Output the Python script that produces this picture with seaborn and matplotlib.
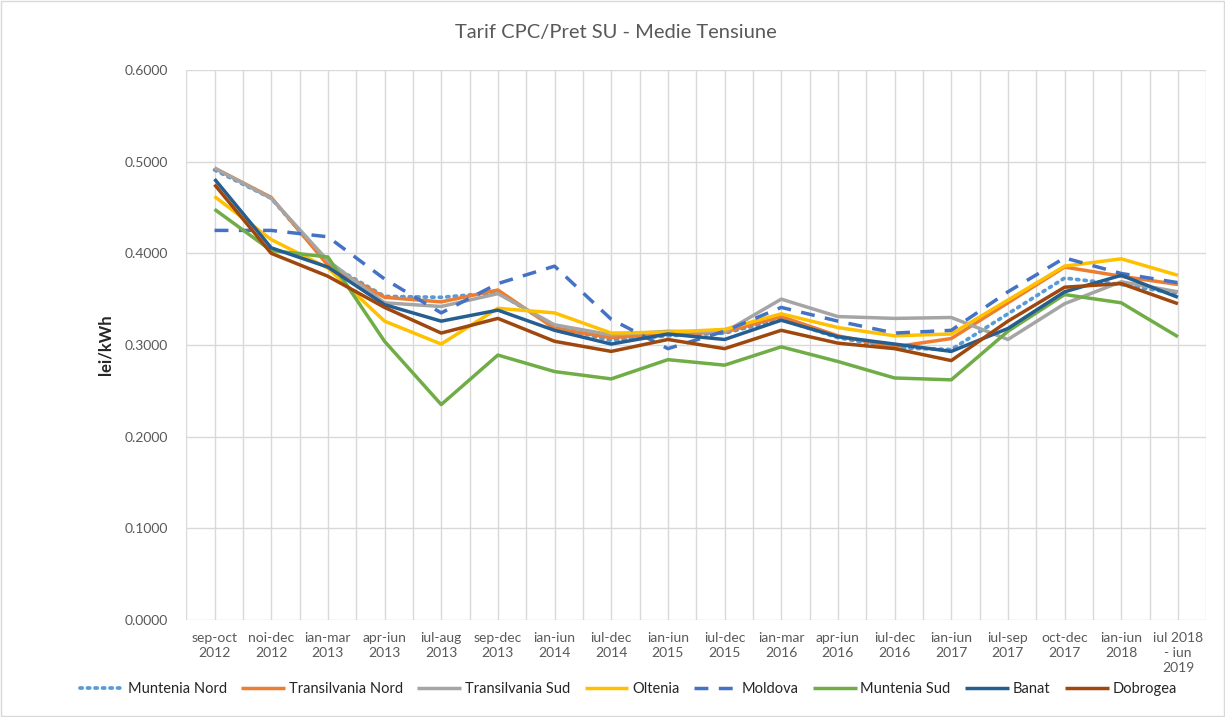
import numpy as np
import pandas as pd
import seaborn as sns
import matplotlib.pyplot as plt
from matplotlib.ticker import MultipleLocator, FormatStrFormatter

# perioade (axa x)
perioade = ['sep-oct\n2012', 'noi-dec\n2012', 'ian-mar\n2013', 'apr-iun\n2013',
            'iul-aug\n2013', 'sep-dec\n2013', 'ian-iun\n2014', 'iul-dec\n2014',
            'ian-iun\n2015', 'iul-dec\n2015', 'ian-mar\n2016', 'apr-iun\n2016',
            'iul-dec\n2016', 'ian-iun\n2017', 'iul-sep\n2017', 'oct-dec\n2017',
            'ian-iun\n2018', 'iul 2018\n- iun\n2019']

# tarife lei/kWh
muntenia_nord = [0.491, 0.460, 0.389, 0.353, 0.352, 0.357, 0.320, 0.305, 0.310, 0.313,
                 0.328, 0.308, 0.297, 0.295, 0.334, 0.373, 0.366, 0.356]
transilvania_nord = [0.493, 0.461, 0.387, 0.352, 0.347, 0.360, 0.318, 0.308, 0.312, 0.314,
                     0.331, 0.310, 0.298, 0.307, 0.346, 0.385, 0.375, 0.366]
transilvania_sud = [0.493, 0.460, 0.392, 0.346, 0.342, 0.356, 0.322, 0.311, 0.315, 0.314,
                    0.350, 0.331, 0.329, 0.330, 0.306, 0.345, 0.369, 0.358]
oltenia = [0.462, 0.415, 0.384, 0.326, 0.301, 0.340, 0.335, 0.313, 0.314, 0.317,
           0.334, 0.319, 0.310, 0.312, 0.349, 0.386, 0.394, 0.376]
moldova = [0.425, 0.425, 0.418, 0.372, 0.335, 0.367, 0.386, 0.328, 0.296, 0.315,
           0.341, 0.326, 0.313, 0.316, 0.358, 0.395, 0.378, 0.368]
muntenia_sud = [0.448, 0.403, 0.396, 0.304, 0.235, 0.289, 0.271, 0.263, 0.284, 0.278,
                0.298, 0.282, 0.264, 0.262, 0.315, 0.355, 0.346, 0.309]
banat = [0.481, 0.406, 0.385, 0.344, 0.326, 0.338, 0.316, 0.301, 0.312, 0.306,
         0.327, 0.309, 0.301, 0.293, 0.318, 0.358, 0.376, 0.352]
dobrogea = [0.475, 0.400, 0.375, 0.341, 0.313, 0.329, 0.304, 0.293, 0.306, 0.296,
            0.316, 0.302, 0.296, 0.283, 0.326, 0.363, 0.367, 0.345]

serii = {
    'Muntenia Nord': (muntenia_nord, '#5B9BD5', (0, (0.6, 1.4))),
    'Transilvania Nord': (transilvania_nord, '#ED7D31', '-'),
    'Transilvania Sud': (transilvania_sud, '#A5A5A5', '-'),
    'Oltenia': (oltenia, '#FFC000', '-'),
    'Moldova': (moldova, '#4472C4', (0, (4, 3))),
    'Muntenia Sud': (muntenia_sud, '#70AD47', '-'),
    'Banat': (banat, '#255E91', '-'),
    'Dobrogea': (dobrogea, '#9E480E', '-'),
}

sns.set_style('white')
plt.rcParams['font.family'] = ['Lato', 'DejaVu Sans']

fig = plt.figure(figsize=(12.25, 7.17), dpi=100)
ax = fig.add_axes([0.152, 0.1353, 0.8327, 0.7671])

x = np.arange(len(perioade))
for nume, (val, culoare, stil) in serii.items():
    punctat = nume == 'Muntenia Nord'
    sns.lineplot(x=x, y=val, ax=ax, color=culoare, linestyle=stil,
                 linewidth=2.7 if punctat else 2.5, label=nume,
                 solid_capstyle='butt', dash_capstyle='round' if punctat else 'butt')

ax.set_xlim(-0.5, len(perioade) - 0.5)
ax.set_ylim(0, 0.6)
ax.xaxis.set_minor_locator(MultipleLocator(0.5))
ax.set_xticks(x)
ax.set_xticklabels(perioade, fontsize=10, color='#595959', linespacing=1.3)
ax.yaxis.set_major_locator(MultipleLocator(0.1))
ax.yaxis.set_major_formatter(FormatStrFormatter('%.4f'))
ax.tick_params(axis='y', labelsize=10, labelcolor='#595959', length=0, pad=13)
ax.tick_params(axis='x', which='both', length=0, pad=9)
ax.grid(True, which='both', axis='x', color='#D9D9D9', linewidth=1)
ax.grid(True, which='major', axis='y', color='#D9D9D9', linewidth=1)
ax.set_axisbelow(True)
for s in ax.spines.values():
    s.set_visible(False)

ax.set_ylabel('lei/kWh', fontsize=12, fontweight='bold', labelpad=8)
ax.set_xlabel('')
fig.text(0.503, 0.955, 'Tarif CPC/Pret SU - Medie Tensiune', ha='center', va='center',
         fontsize=14.5, color='#595959')

ax.get_legend().remove()
h, l = ax.get_legend_handles_labels()
fig.legend(h, l, loc='center', bbox_to_anchor=(0.513, 0.039), ncol=8, frameon=False,
           fontsize=10.5, handlelength=3.0, handletextpad=0.25, columnspacing=1.0)

fig.patches.append(plt.Rectangle((0.001, 0.001), 0.998, 0.998, transform=fig.transFigure,
                                 fill=False, edgecolor='#D9D9D9', linewidth=1))

fig.savefig('out.png', dpi=100)
